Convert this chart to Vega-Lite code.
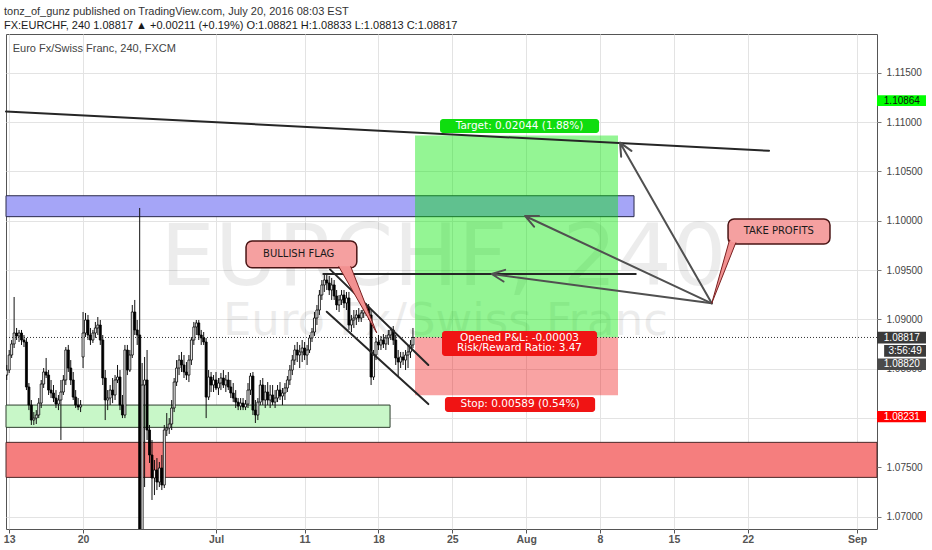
{
  "$schema": "https://vega.github.io/schema/vega-lite/v6.json",
  "width": 871,
  "height": 495,
  "autosize": {"type": "none"},
  "padding": {"left": 6, "top": 34, "right": 55, "bottom": 21},
  "background": "#ffffff",
  "title": {
    "text": "tonz_of_gunz published on TradingView.com, July 20, 2016 08:03 EST",
    "subtitle": "FX:EURCHF, 240  1.08817 ▲ +0.00211 (+0.19%)  O:1.08821  H:1.08833  L:1.08813  C:1.08817",
    "anchor": "start",
    "frame": "group",
    "orient": "top",
    "offset": 3,
    "dx": -2,
    "font": "Liberation Sans",
    "fontSize": 11,
    "fontWeight": "normal",
    "color": "#333333",
    "subtitleFont": "Liberation Sans",
    "subtitleFontSize": 11,
    "subtitleFontWeight": "normal",
    "subtitleColor": "#1a1a1a",
    "subtitlePadding": 3
  },
  "config": {
    "view": {"stroke": "#555555", "strokeWidth": 1},
    "font": "Liberation Sans"
  },
  "datasets": {
    "watermark": [{"text": "EURCHF, 240", "b": 176.4, "p": 1.09349}],
    "watermarkSub": [{"text": "Euro Fx/Swiss Franc", "b": 177.2, "p": 1.08842}],
    "resistanceZone": [{"b1": -1.3, "b2": 253.8, "p1": 1.10253, "p2": 1.10041}],
    "supportZone": [{"b1": -1.3, "b2": 154.7, "p1": 1.08132, "p2": 1.07906}],
    "demandZone": [{"b1": -1.3, "b2": 352.5, "p1": 1.07754, "p2": 1.07399}],
    "targetZone": [{"b1": 164.85, "b2": 247.3, "p1": 1.10864, "p2": 1.0882}],
    "stopZone": [{"b1": 164.85, "b2": 247.3, "p1": 1.0882, "p2": 1.08231}],
    "lastPrice": [{"p": 1.08817}],
    "candles": [
      {"b": -1, "o": 1.08436, "h": 1.08538, "l": 1.08386, "c": 1.08487},
      {"b": 0, "o": 1.08487, "h": 1.0869, "l": 1.08457, "c": 1.08639},
      {"b": 1, "o": 1.08639, "h": 1.08791, "l": 1.08609, "c": 1.08751},
      {"b": 2, "o": 1.08751, "h": 1.09227, "l": 1.0871, "c": 1.08862},
      {"b": 3, "o": 1.08862, "h": 1.08913, "l": 1.08791, "c": 1.08832},
      {"b": 4, "o": 1.08832, "h": 1.08893, "l": 1.08771, "c": 1.08862},
      {"b": 5, "o": 1.08862, "h": 1.08893, "l": 1.08741, "c": 1.08791},
      {"b": 6, "o": 1.08791, "h": 1.08842, "l": 1.0872, "c": 1.08771},
      {"b": 7, "o": 1.08771, "h": 1.08812, "l": 1.08284, "c": 1.08315},
      {"b": 8, "o": 1.08315, "h": 1.08355, "l": 1.08081, "c": 1.08132},
      {"b": 9, "o": 1.08132, "h": 1.08183, "l": 1.0793, "c": 1.0798},
      {"b": 10, "o": 1.0798, "h": 1.08061, "l": 1.0793, "c": 1.08},
      {"b": 11, "o": 1.08, "h": 1.08081, "l": 1.0794, "c": 1.08031},
      {"b": 12, "o": 1.08031, "h": 1.08203, "l": 1.08, "c": 1.08152},
      {"b": 13, "o": 1.08152, "h": 1.08386, "l": 1.08102, "c": 1.08345},
      {"b": 14, "o": 1.08345, "h": 1.08507, "l": 1.08305, "c": 1.08467},
      {"b": 15, "o": 1.08467, "h": 1.08609, "l": 1.08406, "c": 1.08436},
      {"b": 16, "o": 1.08436, "h": 1.08487, "l": 1.08234, "c": 1.08284},
      {"b": 17, "o": 1.08284, "h": 1.08386, "l": 1.08203, "c": 1.08254},
      {"b": 18, "o": 1.08254, "h": 1.08335, "l": 1.08162, "c": 1.08203},
      {"b": 19, "o": 1.08203, "h": 1.08284, "l": 1.08102, "c": 1.08142},
      {"b": 20, "o": 1.08142, "h": 1.08234, "l": 1.08081, "c": 1.08183},
      {"b": 21, "o": 1.08183, "h": 1.08386, "l": 1.07778, "c": 1.08264},
      {"b": 22, "o": 1.08264, "h": 1.08436, "l": 1.08234, "c": 1.08386},
      {"b": 23, "o": 1.08386, "h": 1.0872, "l": 1.08335, "c": 1.0869},
      {"b": 24, "o": 1.0869, "h": 1.08741, "l": 1.08467, "c": 1.08507},
      {"b": 25, "o": 1.08507, "h": 1.08588, "l": 1.08335, "c": 1.08386},
      {"b": 26, "o": 1.08386, "h": 1.08467, "l": 1.08183, "c": 1.08213},
      {"b": 27, "o": 1.08213, "h": 1.08284, "l": 1.08102, "c": 1.08132},
      {"b": 28, "o": 1.08132, "h": 1.08203, "l": 1.08081, "c": 1.08112},
      {"b": 29, "o": 1.08112, "h": 1.08183, "l": 1.08061, "c": 1.08132},
      {"b": 30, "o": 1.08619, "h": 1.09075, "l": 1.08507, "c": 1.08862},
      {"b": 31, "o": 1.08862, "h": 1.09065, "l": 1.08822, "c": 1.08994},
      {"b": 32, "o": 1.08994, "h": 1.09045, "l": 1.08791, "c": 1.08842},
      {"b": 33, "o": 1.08842, "h": 1.08913, "l": 1.08741, "c": 1.08791},
      {"b": 34, "o": 1.08791, "h": 1.08893, "l": 1.08761, "c": 1.08862},
      {"b": 35, "o": 1.08862, "h": 1.08974, "l": 1.08812, "c": 1.08913},
      {"b": 36, "o": 1.08913, "h": 1.09024, "l": 1.08842, "c": 1.08943},
      {"b": 37, "o": 1.08943, "h": 1.08994, "l": 1.08741, "c": 1.08791},
      {"b": 38, "o": 1.08791, "h": 1.08842, "l": 1.08335, "c": 1.08406},
      {"b": 39, "o": 1.08406, "h": 1.08487, "l": 1.0798, "c": 1.08183},
      {"b": 40, "o": 1.08183, "h": 1.08284, "l": 1.08081, "c": 1.08203},
      {"b": 41, "o": 1.08203, "h": 1.08335, "l": 1.08132, "c": 1.08284},
      {"b": 42, "o": 1.08284, "h": 1.08406, "l": 1.08152, "c": 1.08234},
      {"b": 43, "o": 1.08234, "h": 1.08436, "l": 1.08183, "c": 1.08386},
      {"b": 44, "o": 1.08386, "h": 1.08538, "l": 1.08355, "c": 1.08416},
      {"b": 45, "o": 1.08416, "h": 1.08487, "l": 1.08081, "c": 1.08132},
      {"b": 46, "o": 1.08132, "h": 1.08234, "l": 1.08, "c": 1.08031},
      {"b": 47, "o": 1.08031, "h": 1.08741, "l": 1.08, "c": 1.0869},
      {"b": 48, "o": 1.0869, "h": 1.08741, "l": 1.08436, "c": 1.08487},
      {"b": 49, "o": 1.08487, "h": 1.0869, "l": 1.08467, "c": 1.08639},
      {"b": 50, "o": 1.08639, "h": 1.09146, "l": 1.08609, "c": 1.09075},
      {"b": 51, "o": 1.09075, "h": 1.09197, "l": 1.08842, "c": 1.08893},
      {"b": 52, "o": 1.08893, "h": 1.08994, "l": 1.08741, "c": 1.08842},
      {"b": 53, "o": 1.08842, "h": 1.10129, "l": 1.0623, "c": 1.0665},
      {"b": 54, "o": 1.0665, "h": 1.08558, "l": 1.064, "c": 1.08335},
      {"b": 55, "o": 1.08335, "h": 1.08619, "l": 1.07301, "c": 1.08386},
      {"b": 56, "o": 1.08386, "h": 1.0869, "l": 1.07778, "c": 1.07879},
      {"b": 57, "o": 1.07879, "h": 1.0793, "l": 1.07545, "c": 1.07626},
      {"b": 58, "o": 1.07626, "h": 1.07778, "l": 1.0717, "c": 1.07393},
      {"b": 59, "o": 1.07393, "h": 1.07575, "l": 1.0722, "c": 1.07474},
      {"b": 60, "o": 1.07474, "h": 1.07595, "l": 1.07271, "c": 1.07352},
      {"b": 61, "o": 1.07352, "h": 1.07555, "l": 1.07301, "c": 1.07494},
      {"b": 62, "o": 1.07494, "h": 1.07626, "l": 1.07271, "c": 1.07322},
      {"b": 63, "o": 1.07322, "h": 1.0793, "l": 1.07291, "c": 1.07879},
      {"b": 64, "o": 1.07879, "h": 1.08051, "l": 1.07818, "c": 1.07899},
      {"b": 65, "o": 1.07899, "h": 1.08, "l": 1.07839, "c": 1.0794},
      {"b": 66, "o": 1.0794, "h": 1.08183, "l": 1.07879, "c": 1.08102},
      {"b": 67, "o": 1.08102, "h": 1.08406, "l": 1.08061, "c": 1.08365},
      {"b": 68, "o": 1.08365, "h": 1.08588, "l": 1.08325, "c": 1.08507},
      {"b": 69, "o": 1.08507, "h": 1.08639, "l": 1.08436, "c": 1.08588},
      {"b": 70, "o": 1.08588, "h": 1.0867, "l": 1.08467, "c": 1.08538},
      {"b": 71, "o": 1.08538, "h": 1.08639, "l": 1.08406, "c": 1.08467},
      {"b": 72, "o": 1.08467, "h": 1.08568, "l": 1.08386, "c": 1.08436},
      {"b": 73, "o": 1.08436, "h": 1.08639, "l": 1.08365, "c": 1.08588},
      {"b": 74, "o": 1.08588, "h": 1.08822, "l": 1.08538, "c": 1.08791},
      {"b": 75, "o": 1.08791, "h": 1.08974, "l": 1.08741, "c": 1.08923},
      {"b": 76, "o": 1.08923, "h": 1.08994, "l": 1.08842, "c": 1.08964},
      {"b": 77, "o": 1.08964, "h": 1.08994, "l": 1.08791, "c": 1.08842},
      {"b": 78, "o": 1.08842, "h": 1.08893, "l": 1.08741, "c": 1.08812},
      {"b": 79, "o": 1.08812, "h": 1.08872, "l": 1.08741, "c": 1.08771},
      {"b": 80, "o": 1.08771, "h": 1.08812, "l": 1.08, "c": 1.08213},
      {"b": 81, "o": 1.08213, "h": 1.08487, "l": 1.08183, "c": 1.08416},
      {"b": 82, "o": 1.08416, "h": 1.08467, "l": 1.08264, "c": 1.08335},
      {"b": 83, "o": 1.08335, "h": 1.08436, "l": 1.08264, "c": 1.08386},
      {"b": 84, "o": 1.08386, "h": 1.08467, "l": 1.08284, "c": 1.08305},
      {"b": 85, "o": 1.08305, "h": 1.08406, "l": 1.08234, "c": 1.08355},
      {"b": 86, "o": 1.08355, "h": 1.08457, "l": 1.08284, "c": 1.08406},
      {"b": 87, "o": 1.08406, "h": 1.08487, "l": 1.08305, "c": 1.08335},
      {"b": 88, "o": 1.08335, "h": 1.08436, "l": 1.08264, "c": 1.08386},
      {"b": 89, "o": 1.08386, "h": 1.08467, "l": 1.08284, "c": 1.08315},
      {"b": 90, "o": 1.08315, "h": 1.08386, "l": 1.08203, "c": 1.08254},
      {"b": 91, "o": 1.08254, "h": 1.08355, "l": 1.08162, "c": 1.08203},
      {"b": 92, "o": 1.08203, "h": 1.08284, "l": 1.08102, "c": 1.08162},
      {"b": 93, "o": 1.08162, "h": 1.08203, "l": 1.08081, "c": 1.08122},
      {"b": 94, "o": 1.08122, "h": 1.08203, "l": 1.08081, "c": 1.08152},
      {"b": 95, "o": 1.08152, "h": 1.08203, "l": 1.08081, "c": 1.08112},
      {"b": 96, "o": 1.08112, "h": 1.08183, "l": 1.08081, "c": 1.08142},
      {"b": 97, "o": 1.08142, "h": 1.08355, "l": 1.08102, "c": 1.08284},
      {"b": 98, "o": 1.08284, "h": 1.08457, "l": 1.08234, "c": 1.08426},
      {"b": 99, "o": 1.08426, "h": 1.08467, "l": 1.08031, "c": 1.08081},
      {"b": 100, "o": 1.08081, "h": 1.08183, "l": 1.0795, "c": 1.08031},
      {"b": 101, "o": 1.08031, "h": 1.08203, "l": 1.0798, "c": 1.08162},
      {"b": 102, "o": 1.08162, "h": 1.08386, "l": 1.08132, "c": 1.08335},
      {"b": 103, "o": 1.08335, "h": 1.08406, "l": 1.08132, "c": 1.08183},
      {"b": 104, "o": 1.08183, "h": 1.08335, "l": 1.08102, "c": 1.08264},
      {"b": 105, "o": 1.08264, "h": 1.08365, "l": 1.08132, "c": 1.08183},
      {"b": 106, "o": 1.08183, "h": 1.08335, "l": 1.08102, "c": 1.08234},
      {"b": 107, "o": 1.08234, "h": 1.08335, "l": 1.08132, "c": 1.08162},
      {"b": 108, "o": 1.08162, "h": 1.08284, "l": 1.08102, "c": 1.08203},
      {"b": 109, "o": 1.08203, "h": 1.08335, "l": 1.08162, "c": 1.08284},
      {"b": 110, "o": 1.08284, "h": 1.08365, "l": 1.08183, "c": 1.08223},
      {"b": 111, "o": 1.08223, "h": 1.08305, "l": 1.08132, "c": 1.08254},
      {"b": 112, "o": 1.08254, "h": 1.08355, "l": 1.08183, "c": 1.08305},
      {"b": 113, "o": 1.08305, "h": 1.08426, "l": 1.08264, "c": 1.08386},
      {"b": 114, "o": 1.08386, "h": 1.08538, "l": 1.08335, "c": 1.08487},
      {"b": 115, "o": 1.08487, "h": 1.08639, "l": 1.08436, "c": 1.08588},
      {"b": 116, "o": 1.08588, "h": 1.08741, "l": 1.08538, "c": 1.0869},
      {"b": 117, "o": 1.0869, "h": 1.08771, "l": 1.08568, "c": 1.08639},
      {"b": 118, "o": 1.08639, "h": 1.08741, "l": 1.08507, "c": 1.0867},
      {"b": 119, "o": 1.0867, "h": 1.08791, "l": 1.08568, "c": 1.0871},
      {"b": 120, "o": 1.0871, "h": 1.08771, "l": 1.08588, "c": 1.08639},
      {"b": 121, "o": 1.08639, "h": 1.08741, "l": 1.08538, "c": 1.0869},
      {"b": 122, "o": 1.0869, "h": 1.08842, "l": 1.08659, "c": 1.08812},
      {"b": 123, "o": 1.08812, "h": 1.08913, "l": 1.08771, "c": 1.08872},
      {"b": 124, "o": 1.08872, "h": 1.09075, "l": 1.08832, "c": 1.09014},
      {"b": 125, "o": 1.09014, "h": 1.09146, "l": 1.08943, "c": 1.09095},
      {"b": 126, "o": 1.09095, "h": 1.09298, "l": 1.09045, "c": 1.09247},
      {"b": 127, "o": 1.09247, "h": 1.09399, "l": 1.09197, "c": 1.09349},
      {"b": 128, "o": 1.09349, "h": 1.0945, "l": 1.09278, "c": 1.09399},
      {"b": 129, "o": 1.09399, "h": 1.0945, "l": 1.09298, "c": 1.09369},
      {"b": 130, "o": 1.09369, "h": 1.0944, "l": 1.09247, "c": 1.09298},
      {"b": 131, "o": 1.09298, "h": 1.0942, "l": 1.09197, "c": 1.09349},
      {"b": 132, "o": 1.09349, "h": 1.09399, "l": 1.09197, "c": 1.09237},
      {"b": 133, "o": 1.09237, "h": 1.09298, "l": 1.09095, "c": 1.09146},
      {"b": 134, "o": 1.09146, "h": 1.09247, "l": 1.09075, "c": 1.09197},
      {"b": 135, "o": 1.09197, "h": 1.09298, "l": 1.09146, "c": 1.09247},
      {"b": 136, "o": 1.09247, "h": 1.09298, "l": 1.09115, "c": 1.09166},
      {"b": 137, "o": 1.09166, "h": 1.09278, "l": 1.09095, "c": 1.09217},
      {"b": 138, "o": 1.09217, "h": 1.09278, "l": 1.08893, "c": 1.08943},
      {"b": 139, "o": 1.08943, "h": 1.09045, "l": 1.08872, "c": 1.08994},
      {"b": 140, "o": 1.08994, "h": 1.09095, "l": 1.08913, "c": 1.09014},
      {"b": 141, "o": 1.09014, "h": 1.09095, "l": 1.08943, "c": 1.09045},
      {"b": 142, "o": 1.09045, "h": 1.09115, "l": 1.08974, "c": 1.09014},
      {"b": 143, "o": 1.09014, "h": 1.09095, "l": 1.08974, "c": 1.09065},
      {"b": 144, "o": 1.09065, "h": 1.09146, "l": 1.09014, "c": 1.09095},
      {"b": 145, "o": 1.09095, "h": 1.09166, "l": 1.09034, "c": 1.09126},
      {"b": 146, "o": 1.09126, "h": 1.09156, "l": 1.08994, "c": 1.09045},
      {"b": 147, "o": 1.09045, "h": 1.09095, "l": 1.08335, "c": 1.08416},
      {"b": 148, "o": 1.08416, "h": 1.0869, "l": 1.08386, "c": 1.08639},
      {"b": 149, "o": 1.08639, "h": 1.08812, "l": 1.08588, "c": 1.08771},
      {"b": 150, "o": 1.08771, "h": 1.08842, "l": 1.0869, "c": 1.08741},
      {"b": 151, "o": 1.08741, "h": 1.08832, "l": 1.0869, "c": 1.08791},
      {"b": 152, "o": 1.08791, "h": 1.08852, "l": 1.0871, "c": 1.08751},
      {"b": 153, "o": 1.08751, "h": 1.08842, "l": 1.0869, "c": 1.08812},
      {"b": 154, "o": 1.08812, "h": 1.08893, "l": 1.08741, "c": 1.08842},
      {"b": 155, "o": 1.08842, "h": 1.08923, "l": 1.08791, "c": 1.08893},
      {"b": 156, "o": 1.08893, "h": 1.08933, "l": 1.08741, "c": 1.08791},
      {"b": 157, "o": 1.08791, "h": 1.08842, "l": 1.08538, "c": 1.08609},
      {"b": 158, "o": 1.08609, "h": 1.0869, "l": 1.08416, "c": 1.08568},
      {"b": 159, "o": 1.08568, "h": 1.0867, "l": 1.08507, "c": 1.08619},
      {"b": 160, "o": 1.08619, "h": 1.0867, "l": 1.08538, "c": 1.08588},
      {"b": 161, "o": 1.08588, "h": 1.0869, "l": 1.08487, "c": 1.08639},
      {"b": 162, "o": 1.08639, "h": 1.08741, "l": 1.08507, "c": 1.0867},
      {"b": 163, "o": 1.0867, "h": 1.08791, "l": 1.08609, "c": 1.08741},
      {"b": 164, "o": 1.08741, "h": 1.08913, "l": 1.0871, "c": 1.08817}
    ],
    "trendLines": [
      {"id": "resistance", "s": 0, "b": -1.3, "p": 1.11107},
      {"id": "resistance", "s": 1, "b": 308.65, "p": 1.10709},
      {"id": "flagTop", "s": 0, "b": 127.6, "p": 1.0946},
      {"id": "flagTop", "s": 1, "b": 254.5, "p": 1.0946},
      {"id": "channelUpper", "s": 0, "b": 130.3, "p": 1.09507},
      {"id": "channelUpper", "s": 1, "b": 170.25, "p": 1.08538},
      {"id": "channelLower", "s": 0, "b": 128.98, "p": 1.09078},
      {"id": "channelLower", "s": 1, "b": 170.25, "p": 1.08142}
    ],
    "arrows": [
      {"id": "a1", "s": 0, "b": 285.37, "p": 1.09163},
      {"id": "a1", "s": 1, "b": 248.12, "p": 1.10791},
      {"id": "a1", "s": 2, "b": 248.57, "p": 1.10649},
      {"id": "a1", "s": 3, "b": 248.12, "p": 1.10791},
      {"id": "a1", "s": 4, "b": 252.75, "p": 1.10708},
      {"id": "a2", "s": 0, "b": 285.37, "p": 1.09163},
      {"id": "a2", "s": 1, "b": 209.53, "p": 1.10048},
      {"id": "a2", "s": 2, "b": 213.19, "p": 1.09939},
      {"id": "a2", "s": 3, "b": 209.53, "p": 1.10048},
      {"id": "a2", "s": 4, "b": 215.22, "p": 1.10048},
      {"id": "a3", "s": 0, "b": 285.37, "p": 1.09163},
      {"id": "a3", "s": 1, "b": 196.0, "p": 1.0946},
      {"id": "a3", "s": 2, "b": 200.79, "p": 1.09384},
      {"id": "a3", "s": 3, "b": 196.0, "p": 1.0946},
      {"id": "a3", "s": 4, "b": 201.45, "p": 1.09502}
    ],
    "callouts": [
      {"text": "TAKE PROFITS", "b1": 292.0, "b2": 333.4, "p1": 1.10018, "p2": 1.09764, "bt": 312.6, "pt": 1.09893},
      {"text": "BULLISH FLAG", "b1": 96.2, "b2": 141.2, "p1": 1.09794, "p2": 1.09524, "bt": 117.6, "pt": 1.0966}
    ],
    "pointers": [
      {"id": "tp", "p": 1.09805, "b1": 292.6, "b2": 295.6},
      {"id": "tp", "p": 1.09163, "b1": 285.37, "b2": 285.37},
      {"id": "bf", "p": 1.09582, "b1": 132.8, "b2": 138.0},
      {"id": "bf", "p": 1.08862, "b1": 149.3, "b2": 149.3}
    ],
    "positionLabels": [
      {"role": "target", "b1": 175.0, "b2": 239.6, "p1": 1.11031, "p2": 1.10889},
      {"role": "pnl", "b1": 175.8, "b2": 238.8, "p1": 1.08882, "p2": 1.08629},
      {"role": "stop", "b1": 177.0, "b2": 238.0, "p1": 1.08213, "p2": 1.08061}
    ],
    "positionTexts": [
      {"text": "Target: 0.02044 (1.88%)", "b": 207.3, "p": 1.1096},
      {"text": "Opened P&L: -0.00003", "b": 207.3, "p": 1.08809},
      {"text": "Risk/Reward Ratio: 3.47", "b": 207.3, "p": 1.08713},
      {"text": "Stop: 0.00589 (0.54%)", "b": 207.5, "p": 1.08138}
    ],
    "priceTags": [
      {"role": "target", "text": "1.10864", "b1": 352.5, "b2": 372.4, "p1": 1.11271, "p2": 1.11163, "pt": 1.11217, "bt": 362.6},
      {"role": "last", "text": "1.08817", "b1": 352.5, "b2": 372.4, "p1": 1.08875, "p2": 1.08757, "pt": 1.08816, "bt": 362.6},
      {"role": "timer", "text": "3:56:49", "b1": 355.4, "b2": 372.4, "p1": 1.0874, "p2": 1.08622, "pt": 1.08681, "bt": 363.9},
      {"role": "entry", "text": "1.08820", "b1": 352.5, "b2": 372.4, "p1": 1.08605, "p2": 1.08487, "pt": 1.08546, "bt": 362.6},
      {"role": "stop", "text": "1.08231", "b1": 352.5, "b2": 372.4, "p1": 1.08071, "p2": 1.07957, "pt": 1.08014, "bt": 362.6}
    ],
    "chartName": [{"text": "Euro Fx/Swiss Franc, 240, FXCM", "b": 1.42, "p": 1.1174}]
  },
  "layer": [
    {
      "data": {"name": "watermark"},
      "mark": {"type": "text", "font": "DejaVu Sans", "fontSize": 86, "align": "center", "baseline": "alphabetic", "fill": "#000000", "opacity": 0.07},
      "encoding": {
        "x": {
          "field": "b", "type": "quantitative",
          "scale": {"domain": [-1.3, 352.5], "nice": false, "zero": false, "padding": 0},
          "axis": {
            "title": null,
            "values": [0, 30, 84, 120, 150, 180, 210, 240, 270, 300, 344.4],
            "labelExpr": "datum.value == 0 ? '13' : datum.value == 30 ? '20' : datum.value == 84 ? 'Jul' : datum.value == 120 ? '11' : datum.value == 150 ? '18' : datum.value == 180 ? '25' : datum.value == 210 ? 'Aug' : datum.value == 240 ? '8' : datum.value == 270 ? '15' : datum.value == 300 ? '22' : 'Sep'",
            "grid": true, "gridColor": "#e3e3e3", "domain": false,
            "ticks": true, "tickSize": 4, "tickColor": "#555555",
            "labelFont": "Liberation Sans", "labelFontSize": 10.5, "labelFontWeight": "bold", "labelColor": "#555555",
            "labelPadding": 1, "labelOverlap": false
          }
        },
        "y": {
          "field": "p", "type": "quantitative",
          "scale": {"domain": [1.06876, 1.11892], "nice": false, "zero": false},
          "axis": {
            "orient": "right", "title": null,
            "values": [1.07, 1.075, 1.08, 1.085, 1.09, 1.095, 1.1, 1.105, 1.11, 1.115],
            "format": ".5f", "grid": true, "gridColor": "#e3e3e3", "domain": false,
            "tickSize": 4, "tickColor": "#777777",
            "labelFont": "Liberation Sans", "labelFontSize": 10, "labelColor": "#444444", "labelPadding": 5
          }
        },
        "text": {"field": "text"}
      }
    },
    {
      "data": {"name": "watermarkSub"},
      "mark": {"type": "text", "font": "DejaVu Sans", "fontSize": 45, "align": "center", "baseline": "alphabetic", "fill": "#000000", "opacity": 0.07},
      "encoding": {
        "x": {"field": "b", "type": "quantitative"},
        "y": {"field": "p", "type": "quantitative"},
        "text": {"field": "text"}
      }
    },
    {
      "data": {"name": "resistanceZone"},
      "mark": {"type": "rect", "fill": "#a5a5f7", "stroke": "#2a2a4a", "strokeWidth": 1},
      "encoding": {
        "x": {"field": "b1", "type": "quantitative"}, "x2": {"field": "b2"},
        "y": {"field": "p1", "type": "quantitative"}, "y2": {"field": "p2"}
      }
    },
    {
      "data": {"name": "supportZone"},
      "mark": {"type": "rect", "fill": "#c8f7c8", "stroke": "#2f3f2f", "strokeWidth": 1},
      "encoding": {
        "x": {"field": "b1", "type": "quantitative"}, "x2": {"field": "b2"},
        "y": {"field": "p1", "type": "quantitative"}, "y2": {"field": "p2"}
      }
    },
    {
      "data": {"name": "demandZone"},
      "mark": {"type": "rect", "fill": "#f57e7e", "stroke": "#4a2a2a", "strokeWidth": 1},
      "encoding": {
        "x": {"field": "b1", "type": "quantitative"}, "x2": {"field": "b2"},
        "y": {"field": "p1", "type": "quantitative"}, "y2": {"field": "p2"}
      }
    },
    {
      "data": {"name": "targetZone"},
      "mark": {"type": "rect", "fill": "#00e600", "opacity": 0.42},
      "encoding": {
        "x": {"field": "b1", "type": "quantitative"}, "x2": {"field": "b2"},
        "y": {"field": "p1", "type": "quantitative"}, "y2": {"field": "p2"}
      }
    },
    {
      "data": {"name": "stopZone"},
      "mark": {"type": "rect", "fill": "#ee0000", "opacity": 0.36},
      "encoding": {
        "x": {"field": "b1", "type": "quantitative"}, "x2": {"field": "b2"},
        "y": {"field": "p1", "type": "quantitative"}, "y2": {"field": "p2"}
      }
    },
    {
      "data": {"name": "lastPrice"},
      "mark": {"type": "rule", "stroke": "#333333", "strokeWidth": 1, "strokeDash": [1, 2]},
      "encoding": {"y": {"field": "p", "type": "quantitative"}}
    },
    {
      "data": {"name": "candles"},
      "mark": {"type": "rule", "stroke": "#111111", "strokeWidth": 1, "clip": true},
      "encoding": {
        "x": {"field": "b", "type": "quantitative"},
        "y": {"field": "l", "type": "quantitative"},
        "y2": {"field": "h"}
      }
    },
    {
      "data": {"name": "candles"},
      "mark": {"type": "bar", "width": 2, "stroke": "#000000", "strokeWidth": 0.8, "clip": true},
      "encoding": {
        "x": {"field": "b", "type": "quantitative"},
        "y": {"field": "o", "type": "quantitative"},
        "y2": {"field": "c"},
        "fill": {"condition": {"test": "datum.c < datum.o", "value": "#000000"}, "value": "#ffffff"}
      }
    },
    {
      "data": {"name": "trendLines"},
      "mark": {"type": "line", "stroke": "#262626", "strokeWidth": 2, "strokeCap": "round"},
      "encoding": {
        "x": {"field": "b", "type": "quantitative"},
        "y": {"field": "p", "type": "quantitative"},
        "detail": {"field": "id"},
        "order": {"field": "s"}
      }
    },
    {
      "data": {"name": "arrows"},
      "mark": {"type": "line", "stroke": "#505050", "strokeWidth": 2, "strokeCap": "round", "strokeJoin": "round"},
      "encoding": {
        "x": {"field": "b", "type": "quantitative"},
        "y": {"field": "p", "type": "quantitative"},
        "detail": {"field": "id"},
        "order": {"field": "s"}
      }
    },
    {
      "data": {"name": "callouts"},
      "mark": {"type": "rect", "fill": "#f5a0a0", "stroke": "#4a1515", "strokeWidth": 1.5, "cornerRadius": 6},
      "encoding": {
        "x": {"field": "b1", "type": "quantitative"}, "x2": {"field": "b2"},
        "y": {"field": "p1", "type": "quantitative"}, "y2": {"field": "p2"}
      }
    },
    {
      "data": {"name": "pointers"},
      "mark": {"type": "area", "orient": "horizontal", "fill": "#f29191", "stroke": "#7a2020", "strokeWidth": 1},
      "encoding": {
        "y": {"field": "p", "type": "quantitative"},
        "x": {"field": "b1", "type": "quantitative"},
        "x2": {"field": "b2"},
        "detail": {"field": "id"}
      }
    },
    {
      "data": {"name": "callouts"},
      "mark": {"type": "rect", "fill": "#f5a0a0", "cornerRadius": 5, "xOffset": 1.5, "x2Offset": -1.5, "yOffset": 1.5, "y2Offset": -1.5},
      "encoding": {
        "x": {"field": "b1", "type": "quantitative"}, "x2": {"field": "b2"},
        "y": {"field": "p1", "type": "quantitative"}, "y2": {"field": "p2"}
      }
    },
    {
      "data": {"name": "callouts"},
      "mark": {"type": "text", "font": "DejaVu Sans", "fontSize": 10, "fill": "#1a1a1a", "align": "center", "baseline": "middle"},
      "encoding": {
        "x": {"field": "bt", "type": "quantitative"},
        "y": {"field": "pt", "type": "quantitative"},
        "text": {"field": "text"}
      }
    },
    {
      "data": {"name": "positionLabels"},
      "mark": {"type": "rect", "cornerRadius": 3},
      "encoding": {
        "x": {"field": "b1", "type": "quantitative"}, "x2": {"field": "b2"},
        "y": {"field": "p1", "type": "quantitative"}, "y2": {"field": "p2"},
        "fill": {"condition": {"test": "datum.role === 'target'", "value": "#0fdd0f"}, "value": "#f01414"}
      }
    },
    {
      "data": {"name": "positionTexts"},
      "mark": {"type": "text", "font": "DejaVu Sans", "fontSize": 10.5, "fill": "#ffffff", "align": "center", "baseline": "middle"},
      "encoding": {
        "x": {"field": "b", "type": "quantitative"},
        "y": {"field": "p", "type": "quantitative"},
        "text": {"field": "text"}
      }
    },
    {
      "data": {"name": "priceTags"},
      "mark": {"type": "rect"},
      "encoding": {
        "x": {"field": "b1", "type": "quantitative"}, "x2": {"field": "b2"},
        "y": {"field": "p1", "type": "quantitative"}, "y2": {"field": "p2"},
        "fill": {
          "field": "role", "type": "nominal", "legend": null,
          "scale": {"domain": ["target", "last", "timer", "entry", "stop"], "range": ["#00ff00", "#3a3a3a", "#3a3a3a", "#4a4a4a", "#ff0000"]}
        }
      }
    },
    {
      "data": {"name": "priceTags"},
      "mark": {"type": "text", "font": "Liberation Sans", "fontSize": 10, "align": "center", "baseline": "middle"},
      "encoding": {
        "x": {"field": "bt", "type": "quantitative"},
        "y": {"field": "pt", "type": "quantitative"},
        "text": {"field": "text"},
        "fill": {"condition": {"test": "datum.role === 'target'", "value": "#111111"}, "value": "#ffffff"}
      }
    },
    {
      "data": {"name": "chartName"},
      "mark": {"type": "text", "font": "Liberation Sans", "fontSize": 11, "fill": "#444444", "align": "left", "baseline": "middle"},
      "encoding": {
        "x": {"field": "b", "type": "quantitative"},
        "y": {"field": "p", "type": "quantitative"},
        "text": {"field": "text"}
      }
    }
  ]
}
